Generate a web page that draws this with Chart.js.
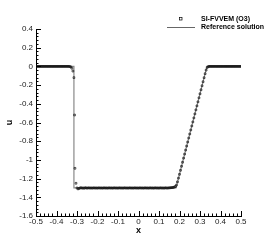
<!DOCTYPE html>
<html><head><meta charset="utf-8">
<script src="https://cdn.jsdelivr.net/npm/chart.js@4"></script>
<style>html,body{margin:0;padding:0;background:#fff}#w{width:274px;height:244px}</style>
</head><body><div id="w"><canvas id="c" width="274" height="244"></canvas></div>
<script>
const seriesNames = ["SI-FVVEM (O3)", "Reference solution"];
const xNum = [
  -0.500,-0.495,-0.490,-0.485,-0.480,-0.475,-0.470,-0.465,-0.460,-0.455,-0.450,-0.445,-0.440,-0.435,-0.430,-0.425,-0.420,-0.415,-0.410,-0.405,
  -0.400,-0.395,-0.390,-0.385,-0.380,-0.375,-0.370,-0.365,-0.360,-0.355,-0.350,-0.345,-0.340,-0.335,-0.330,
  -0.325,-0.320,-0.315,-0.312,-0.310,-0.305,-0.300,
  -0.295,-0.290,-0.285,-0.280,-0.275,-0.270,-0.265,-0.260,-0.255,-0.250,-0.245,-0.240,-0.235,-0.230,-0.225,-0.220,-0.215,-0.210,-0.205,-0.200,
  -0.195,-0.190,-0.185,-0.180,-0.175,-0.170,-0.165,-0.160,-0.155,-0.150,-0.145,-0.140,-0.135,-0.130,-0.125,-0.120,-0.115,-0.110,-0.105,-0.100,
  -0.095,-0.090,-0.085,-0.080,-0.075,-0.070,-0.065,-0.060,-0.055,-0.050,-0.045,-0.040,-0.035,-0.030,-0.025,-0.020,-0.015,-0.010,-0.005,0.000,
  0.005,0.010,0.015,0.020,0.025,0.030,0.035,0.040,0.045,0.050,0.055,0.060,0.065,0.070,0.075,0.080,0.085,0.090,0.095,0.100,
  0.105,0.110,0.115,0.120,0.125,0.130,0.135,0.140,0.145,0.150,0.155,0.160,0.165,0.170,0.175,
  0.180,0.185,0.190,0.195,0.200,0.205,0.210,0.215,0.220,0.225,0.230,0.235,0.240,0.245,0.250,0.255,0.260,0.265,0.270,0.275,
  0.280,0.285,0.290,0.295,0.300,0.305,0.310,0.315,0.320,0.325,0.330,0.335,0.340,0.345,
  0.350,0.355,0.360,0.365,0.370,0.375,0.380,0.385,0.390,0.395,0.400,0.405,0.410,0.415,0.420,0.425,0.430,0.435,0.440,0.445,
  0.450,0.455,0.460,0.465,0.470,0.475,0.480,0.485,0.490,0.495,0.500];
const uNum = [
  0,0,0,0,0,0,0,0,0,0,0,0,0,0,0,0,0,0,0,0,
  0,0,0,0,0,0,0,0,0,0,0,0,0,-0.002,-0.006,
  -0.02,-0.05,-0.12,-0.52,-1.09,-1.25,-1.30,
  -1.31,-1.305,-1.30,-1.298,-1.302,-1.30,-1.303,-1.298,-1.30,-1.302,-1.299,-1.30,-1.301,-1.30,-1.302,-1.299,-1.30,-1.301,-1.30,-1.302,
  -1.299,-1.30,-1.301,-1.30,-1.302,-1.299,-1.30,-1.301,-1.30,-1.302,-1.299,-1.30,-1.301,-1.30,-1.302,-1.299,-1.30,-1.301,-1.30,-1.302,
  -1.299,-1.30,-1.301,-1.30,-1.302,-1.299,-1.30,-1.301,-1.30,-1.302,-1.299,-1.30,-1.301,-1.30,-1.302,-1.299,-1.30,-1.301,-1.30,-1.302,
  -1.299,-1.30,-1.301,-1.30,-1.302,-1.299,-1.30,-1.301,-1.30,-1.302,-1.299,-1.30,-1.301,-1.30,-1.302,-1.299,-1.30,-1.301,-1.30,-1.302,
  -1.299,-1.30,-1.301,-1.30,-1.302,-1.299,-1.30,-1.301,-1.30,-1.299,-1.298,-1.297,-1.296,-1.294,-1.29,
  -1.285,-1.27,-1.235,-1.195,-1.154,-1.111,-1.068,-1.025,-0.981,-0.938,-0.895,-0.852,-0.809,-0.766,-0.723,-0.680,-0.637,-0.594,-0.551,-0.508,
  -0.465,-0.422,-0.379,-0.336,-0.293,-0.250,-0.207,-0.164,-0.121,-0.078,-0.040,-0.012,-0.003,0,
  0,0,0,0,0,0,0,0,0,0,0,0,0,0,0,0,0,0,0,0,
  0,0,0,0,0,0,0,0,0,0,0];
const xRef = [-0.5,-0.315,-0.315,0.183,0.334,0.5];
const uRef = [0,0,-1.3,-1.3,0,0];
const xTicks = [-0.5,-0.4,-0.3,-0.2,-0.1,0,0.1,0.2,0.3,0.4,0.5];
const yTicks = [0.4,0.2,0,-0.2,-0.4,-0.6,-0.8,-1,-1.2,-1.4,-1.6];

const FONT = "'Liberation Sans', Arial, sans-serif";
const ticksPlugin = {
  id: 'inTicks',
  afterDraw(chart) {
    const ctx = chart.ctx, xs = chart.scales.x, ys = chart.scales.y;
    const a = chart.chartArea;
    ctx.save();
    ctx.strokeStyle = '#000'; ctx.lineWidth = 1;
    for (let i = 0; i <= 50; i++) {
      const v = -0.5 + i * 0.02, p = Math.round(xs.getPixelForValue(v)) + 0.5;
      const L = (i % 5 === 0) ? 5 : 2.5;
      ctx.beginPath(); ctx.moveTo(p, a.bottom); ctx.lineTo(p, a.bottom - L); ctx.stroke();
    }
    for (let i = 0; i <= 50; i++) {
      const v = -1.6 + i * 0.04, p = Math.round(ys.getPixelForValue(v)) + 0.5;
      const L = (i % 5 === 0) ? 5 : 2.5;
      ctx.beginPath(); ctx.moveTo(a.left, p); ctx.lineTo(a.left + L, p); ctx.stroke();
    }
    // legend
    ctx.fillStyle = '#000';
    ctx.font = "bold 7px " + FONT;
    ctx.textBaseline = 'middle'; ctx.textAlign = 'left';
    ctx.lineWidth = 0.7;
    ctx.strokeRect(179.5, 17.5, 2.5, 2.5);
    ctx.fillText(seriesNames[0], 201, 19);
    ctx.strokeStyle = '#666'; ctx.lineWidth = 1;
    ctx.beginPath(); ctx.moveTo(167, 27.5); ctx.lineTo(195, 27.5); ctx.stroke();
    ctx.fillText(seriesNames[1], 201, 27);
    ctx.restore();
  }
};

new Chart(document.getElementById('c'), {
  type: 'scatter',
  data: {
    datasets: [
      { label: seriesNames[0], data: xNum.map((x, i) => ({x, y: uNum[i]})),
        pointStyle: 'rect', pointRadius: 1.2, borderColor: '#111', borderWidth: 0.7,
        backgroundColor: 'rgba(255,255,255,0)', showLine: false, order: 1 },
      { label: seriesNames[1], data: xRef.map((x, i) => ({x, y: uRef[i]})),
        showLine: true, pointRadius: 0, borderColor: '#8a8a8a', borderWidth: 1.2, order: 2 }
    ]
  },
  options: {
    responsive: false, animation: false, devicePixelRatio: 1,
    layout: { padding: { top: 29, right: 33, left: 0, bottom: 8 } },
    plugins: { legend: { display: false }, tooltip: { enabled: false } },
    scales: {
      x: {
        type: 'linear', min: -0.5, max: 0.5,
        afterBuildTicks(s) { s.ticks = xTicks.map(v => ({value: v})); },
        afterFit(s) { s.height = 20; },
        grid: { display: false, drawTicks: false },
        border: { display: true, color: '#000', width: 1 },
        ticks: { padding: 1, color: '#222', font: { family: FONT, size: 8 }, maxRotation: 0,
                 callback: v => String(Math.round(v * 10) / 10) },
        title: { display: true, text: 'x', color: '#000', padding: {top: 0, bottom: 0}, font: { family: FONT, size: 9, weight: 'bold' } }
      },
      y: {
        type: 'linear', min: -1.6, max: 0.4,
        afterBuildTicks(s) { s.ticks = yTicks.map(v => ({value: v})); },
        afterFit(s) { s.width = 36; },
        grid: { display: false, drawTicks: false },
        border: { display: true, color: '#000', width: 1 },
        ticks: { padding: 3, color: '#222', font: { family: FONT, size: 8 },
                 callback: v => String(Math.round(v * 10) / 10) },
        title: { display: true, text: 'u', color: '#000', padding: {top: 4, bottom: 0}, font: { family: FONT, size: 9, weight: 'bold' } }
      }
    }
  },
  plugins: [ticksPlugin]
});
</script></body></html>
